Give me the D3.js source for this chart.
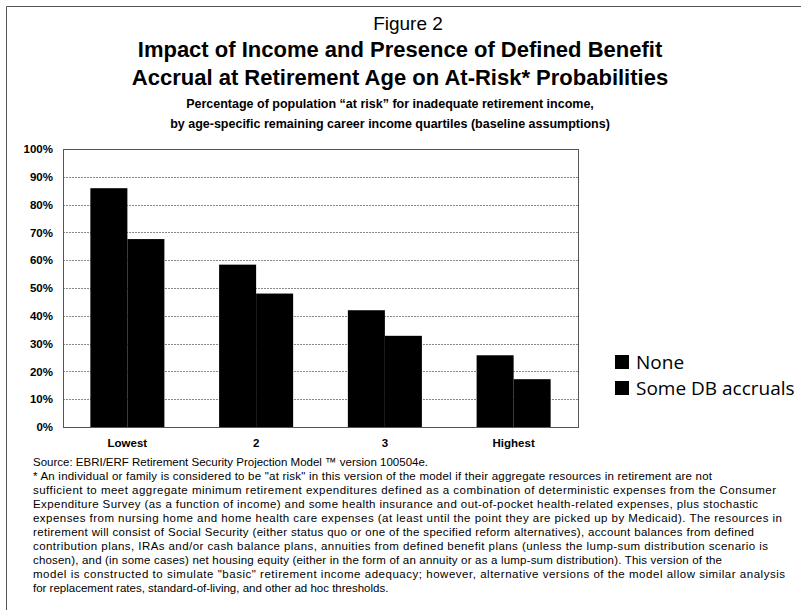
<!DOCTYPE html>
<html>
<head>
<meta charset="utf-8">
<script src="https://cdn.jsdelivr.net/npm/d3@7"></script>
<style>
  body { margin: 0; background: #fff; }
  svg { display: block; }
</style>
</head>
<body>
<div id="chart-area"></div>
<script>
var categories = ["Lowest", "2", "3", "Highest"];
var seriesNames = ["None", "Some DB accruals"];
var noneValues = [85.9, 58.4, 42.0, 25.8];
var someDbValues = [67.6, 48.0, 32.8, 17.2];
var yTicks = [0, 10, 20, 30, 40, 50, 60, 70, 80, 90, 100];

var titleLines = [
    "Impact of Income and Presence of Defined Benefit",
    "Accrual at Retirement Age on At-Risk* Probabilities"
];
var subtitleLines = [
    "Percentage of population \u201cat risk\u201d for inadequate retirement income,",
    "by age-specific remaining career income quartiles (baseline assumptions)"
];
var footLines = [
    "Source: EBRI/ERF Retirement Security Projection Model \u2122 version 100504e.",
    "* An individual or family is considered to be \"at risk\" in this version of the model if their aggregate resources in retirement are not",
    "sufficient to meet aggregate minimum retirement expenditures defined as a combination of deterministic expenses from the Consumer",
    "Expenditure Survey (as a function of income) and some health insurance and out-of-pocket health-related expenses, plus stochastic",
    "expenses from nursing home and home health care expenses (at least until the point they are picked up by Medicaid). The resources in",
    "retirement will consist of Social Security (either status quo or one of the specified reform alternatives), account balances from defined",
    "contribution plans, IRAs and/or cash balance plans, annuities from defined benefit plans (unless the lump-sum distribution scenario is",
    "chosen), and (in some cases) net housing equity (either in the form of an annuity or as a lump-sum distribution).  This version of the",
    "model is constructed to simulate \"basic\" retirement income adequacy; however, alternative versions of the model allow similar analysis",
    "for replacement rates, standard-of-living, and other ad hoc thresholds."
];
// approximate line widths of the scanned footnote (px); null = natural width
var footWidths = [null, 679, 743, 725, 749, 721, 735, 689, 752, null];

var data = categories.map((c, i) => ({
    name: c,
    values: [noneValues[i], someDbValues[i]]
}));

var width = 801;
var height = 614;
var margin = { top: 149, right: 223, bottom: 187, left: 63 };
var innerWidth = width - margin.left - margin.right;
var innerHeight = height - margin.top - margin.bottom;
var font = "Liberation Sans, Arial, sans-serif";

var svg = d3.select("#chart-area")
    .append("svg")
    .attr("width", width)
    .attr("height", height);

// outer frame (only top and left edges show in the scan)
svg.append("path")
    .attr("d", "M6.5,610 V6.5 H801")
    .attr("fill", "none")
    .attr("stroke", "#555")
    .attr("stroke-width", 1);

// titles
svg.append("text")
    .attr("x", 408)
    .attr("y", 30)
    .attr("text-anchor", "middle")
    .attr("font-family", font)
    .attr("font-size", "19px")
    .text("Figure 2");

svg.selectAll(".title")
    .data(titleLines)
    .enter()
    .append("text")
    .attr("class", "title")
    .attr("x", 400)
    .attr("y", (d, i) => 57 + i * 28)
    .attr("text-anchor", "middle")
    .attr("font-family", font)
    .attr("font-weight", "bold")
    .attr("font-size", "22px")
    .text(d => d);

svg.selectAll(".subtitle")
    .data(subtitleLines)
    .enter()
    .append("text")
    .attr("class", "subtitle")
    .attr("x", 390)
    .attr("y", (d, i) => 108 + i * 20)
    .attr("text-anchor", "middle")
    .attr("font-family", font)
    .attr("font-weight", "bold")
    .attr("font-size", "12.5px")
    .text(d => d);

var g = svg.append("g")
    .attr("transform", `translate(${margin.left}, ${margin.top})`);

var x = d3.scaleBand()
    .domain(categories)
    .range([0, innerWidth])
    .paddingInner(0.425)
    .paddingOuter(0.2125);

var x1 = d3.scaleBand()
    .domain(seriesNames)
    .range([0, x.bandwidth()]);

var y = d3.scaleLinear()
    .domain([0, 100])
    .range([innerHeight, 0]);

// gridlines
g.append("g")
    .selectAll("line")
    .data(yTicks.slice(1))
    .enter()
    .append("line")
    .attr("x1", 0)
    .attr("x2", innerWidth)
    .attr("y1", d => Math.round(y(d)) + 0.5)
    .attr("y2", d => Math.round(y(d)) + 0.5)
    .attr("stroke", "#888")
    .attr("stroke-width", 1)
    .attr("stroke-dasharray", "2,1");

// bars
var groups = g.selectAll(".group")
    .data(data)
    .enter()
    .append("g")
    .attr("class", "group")
    .attr("transform", d => `translate(${x(d.name)}, 0)`);

groups.selectAll("rect")
    .data(d => d.values.map((v, i) => ({ key: seriesNames[i], value: v })))
    .enter()
    .append("rect")
    .attr("x", d => x1(d.key))
    .attr("y", d => y(d.value))
    .attr("width", x1.bandwidth())
    .attr("height", d => innerHeight - y(d.value))
    .attr("fill", "#000");

// plot border
g.append("rect")
    .attr("x", 0.5)
    .attr("y", 0.5)
    .attr("width", innerWidth)
    .attr("height", innerHeight)
    .attr("fill", "none")
    .attr("stroke", "#555")
    .attr("stroke-width", 1);

// y axis
var yAxis = d3.axisLeft(y)
    .tickValues(yTicks)
    .tickSize(0)
    .tickPadding(10)
    .tickFormat(d => `${d}%`);
g.append("g")
    .call(yAxis)
    .call(s => s.select(".domain").remove())
    .selectAll("text")
    .attr("font-family", font)
    .attr("font-weight", "bold")
    .attr("font-size", "11.5px")
    .attr("fill", "#000");

// x axis
var xAxis = d3.axisBottom(x)
    .tickSize(0)
    .tickPadding(12);
g.append("g")
    .attr("transform", `translate(0, ${innerHeight})`)
    .call(xAxis)
    .call(s => s.select(".domain").remove())
    .selectAll("text")
    .attr("font-family", font)
    .attr("font-weight", "bold")
    .attr("font-size", "11.5px")
    .attr("fill", "#000");

// legend
var legend = svg.selectAll(".legend")
    .data(seriesNames)
    .enter()
    .append("g")
    .attr("class", "legend")
    .attr("transform", (d, i) => `translate(615, ${362 + i * 26})`);

legend.append("rect")
    .attr("x", 0)
    .attr("y", -7)
    .attr("width", 14)
    .attr("height", 14)
    .attr("fill", "#000");

legend.append("text")
    .attr("x", 21)
    .attr("y", 0)
    .attr("dy", "0.35em")
    .attr("font-family", "Open Sans, Noto Sans, sans-serif")
    .attr("font-size", "19px")
    .text(d => d);

// footnotes
var foot = svg.selectAll(".foot")
    .data(footLines)
    .enter()
    .append("text")
    .attr("class", "foot")
    .attr("x", 33)
    .attr("y", (d, i) => 466 + i * 14)
    .attr("font-family", font)
    .attr("font-size", "11.5px")
    .text(d => d);

foot.filter((d, i) => footWidths[i] != null)
    .attr("textLength", (d, i, nodes) => footWidths[footLines.indexOf(d)])
    .attr("lengthAdjust", "spacing");
</script>
</body>
</html>
